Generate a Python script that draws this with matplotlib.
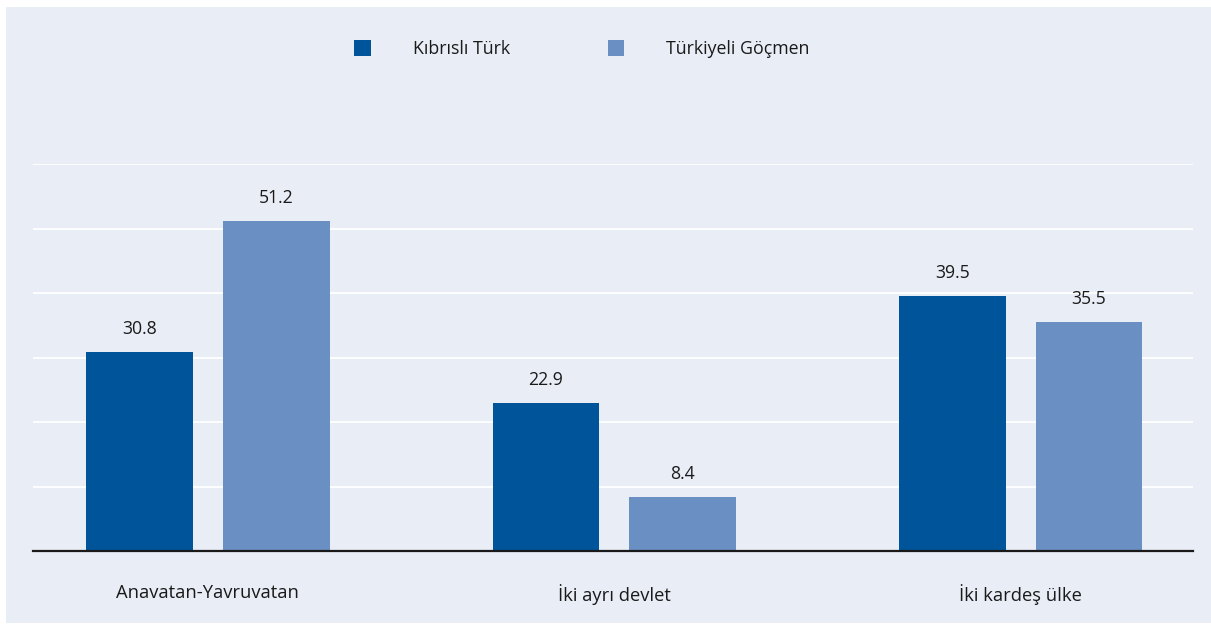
import matplotlib.pyplot as plt
import numpy as np
from matplotlib.patches import Patch, Rectangle

plt.rc('font', family=['Open Sans', 'DejaVu Sans'])

categories = ['Anavatan-Yavruvatan', 'İki ayrı devlet', 'İki kardeş ülke']
series_names = ['Kıbrıslı Türk', 'Türkiyeli Göçmen']
kibrisli = [30.8, 22.9, 39.5]
gocmen = [51.2, 8.4, 35.5]

colors = ['#00559a', '#6a8fc2']
bg = '#e9edf6'

fig = plt.figure(figsize=(12.11, 6.28), dpi=100)
fig.patch.set_facecolor('white')
fig.patches.append(Rectangle((6 / 1211, 5 / 628), 1205 / 1211, 616 / 628,
                             transform=fig.transFigure, facecolor=bg,
                             edgecolor='none', zorder=-10))

ax = fig.add_axes([0.0273, 0.1226, 0.9579, 0.6162])
ax.set_facecolor(bg)
ax.patch.set_alpha(0)

x = np.arange(len(categories))
width = 0.263
offset = 0.168

for i, (vals, color) in enumerate(zip([kibrisli, gocmen], colors)):
    pos = x + (-offset if i == 0 else offset)
    bars = ax.bar(pos, vals, width=width, color=color, zorder=3)
    for b, v in zip(bars, vals):
        ax.annotate('{:.1f}'.format(v),
                    (b.get_x() + b.get_width() / 2, b.get_height()),
                    xytext=(0, 10), textcoords='offset points',
                    ha='center', va='bottom', fontsize=12.7,
                    color='#1a1a1a')

ax.set_ylim(0, 60)
ax.set_xlim(-0.43, 2.424)
ax.set_yticks(np.arange(10, 61, 10))
ax.yaxis.grid(True, color='white', linewidth=1.3, zorder=0)
ax.tick_params(axis='y', left=False, labelleft=False)
ax.tick_params(axis='x', bottom=False, pad=20, labelsize=13.2,
               labelcolor='#1a1a1a')
ax.set_xticks(x)
ax.set_xticklabels(categories)

for side in ['top', 'right', 'left']:
    ax.spines[side].set_visible(False)
ax.spines['bottom'].set_color('#1a1a1a')
ax.spines['bottom'].set_linewidth(1.6)
ax.spines['bottom'].set_zorder(4)

handles = [Patch(facecolor=c, edgecolor='none', label=n)
           for c, n in zip(colors, series_names)]
fig.legend(handles=handles, loc='center', bbox_to_anchor=(0.4805, 0.922),
           ncol=2, frameon=False, fontsize=12.8, handlelength=0.95,
           handleheight=1.05, handletextpad=2.35, columnspacing=5.5,
           labelcolor='#1a1a1a')

fig.savefig('out.png', dpi=100, facecolor=fig.get_facecolor())
